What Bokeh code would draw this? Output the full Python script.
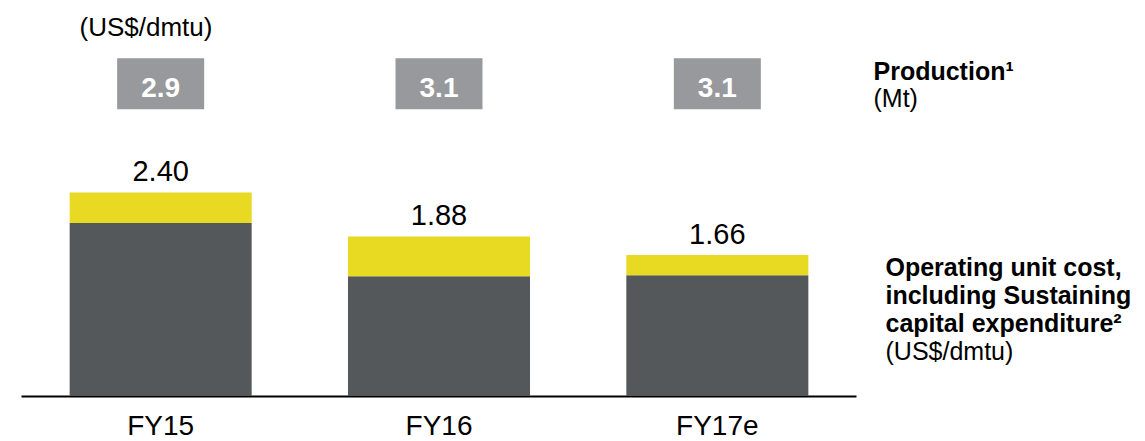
from bokeh.plotting import figure
from bokeh.models import Range1d, ColumnDataSource
from bokeh.embed import file_html
from bokeh.resources import INLINE
from bokeh.core.properties import value

# ---- data ----
years = ["FY15", "FY16", "FY17e"]
opex = [2.04, 1.41, 1.42]            # operating unit cost (dark grey)
sustaining = [0.36, 0.47, 0.24]      # sustaining capex (yellow)
total_labels = ["2.40", "1.88", "1.66"]
production = [2.9, 3.1, 3.1]         # Mt
production_labels = ["2.9", "3.1", "3.1"]

# ---- layout / style ----
W, H = 1145, 441
LEFT = 21            # pixel where the category axis begins
AXIS_RIGHT = 856     # pixel where the category axis ends
BASE = 395           # pixel of the zero line
PX_PER_UNIT = 84.6
STEP = (AXIS_RIGHT - LEFT) / len(years)

GRAY = "#55585B"
YELLOW = "#E8D922"
BOX = "#97999C"
FONT = "Liberation Sans"


def y_at(py):
    return (BASE - py) / PX_PER_UNIT


def x_at(px):
    return (px - LEFT) / STEP


xs = [i + 0.5 for i in range(len(years))]
totals = [a + b for a, b in zip(opex, sustaining)]
src = ColumnDataSource(dict(x=xs, years=years, opex=opex, total=totals,
                            total_label=total_labels,
                            prod_label=production_labels))

p = figure(x_range=Range1d(x_at(0), x_at(W)), y_range=Range1d(y_at(H), y_at(0)),
           width=W, height=H, output_backend="svg", toolbar_location=None,
           min_border=0)
p.background_fill_color = "white"
p.border_fill_color = "white"
p.outline_line_color = None
p.grid.visible = False
p.axis.visible = False

BAR_W = 0.654
p.vbar(x="x", bottom=0, top="opex", width=BAR_W, source=src,
       fill_color=GRAY, line_color=None)
p.vbar(x="x", bottom="opex", top="total", width=BAR_W, source=src,
       fill_color=YELLOW, line_color=None)

# baseline (category axis line)
p.segment(x0=0, x1=len(years), y0=y_at(BASE + 1), y1=y_at(BASE + 1),
          line_color="black", line_width=2)

# category labels
p.text(x="x", y=y_at(425), text="years", source=src,
       text_align="center", text_baseline="middle",
       text_font=value(FONT), text_font_size="28px", text_color="black")

# total value labels
p.text(x="x", y="total", text="total_label", source=src,
       text_align="center", text_baseline="middle", y_offset=-21,
       text_font=value(FONT), text_font_size="29px", text_color="black")

# production boxes
BOX_Y = y_at(83.3)
p.rect(x="x", y=BOX_Y, width=87, height=51, width_units="screen",
       height_units="screen", source=src, fill_color=BOX, line_color=None)
p.text(x="x", y=BOX_Y, text="prod_label", source=src,
       text_align="center", text_baseline="middle", y_offset=4,
       text_font=value(FONT), text_font_style="bold",
       text_font_size="28px", text_color="white")


def add_text(text, px, py, bold=False, align="left", size="25px"):
    p.text(x=[x_at(px)], y=[y_at(py)], text=[text],
           text_align=align, text_baseline="middle",
           text_font=value(FONT), text_font_size=size,
           text_font_style="bold" if bold else "normal",
           text_color="black")


add_text("(US$/dmtu)", 145.5, 26, align="center", size="26px")
add_text("Production\u00b9", 873, 70.5, bold=True)
add_text("(Mt)", 873, 97)
add_text("Operating unit cost,", 885, 266, bold=True)
add_text("including Sustaining", 885, 294, bold=True)
add_text("capital expenditure\u00b2", 885, 322.5, bold=True)
add_text("(US$/dmtu)", 885, 350)

open("out.html", "w").write(file_html(p, INLINE))
